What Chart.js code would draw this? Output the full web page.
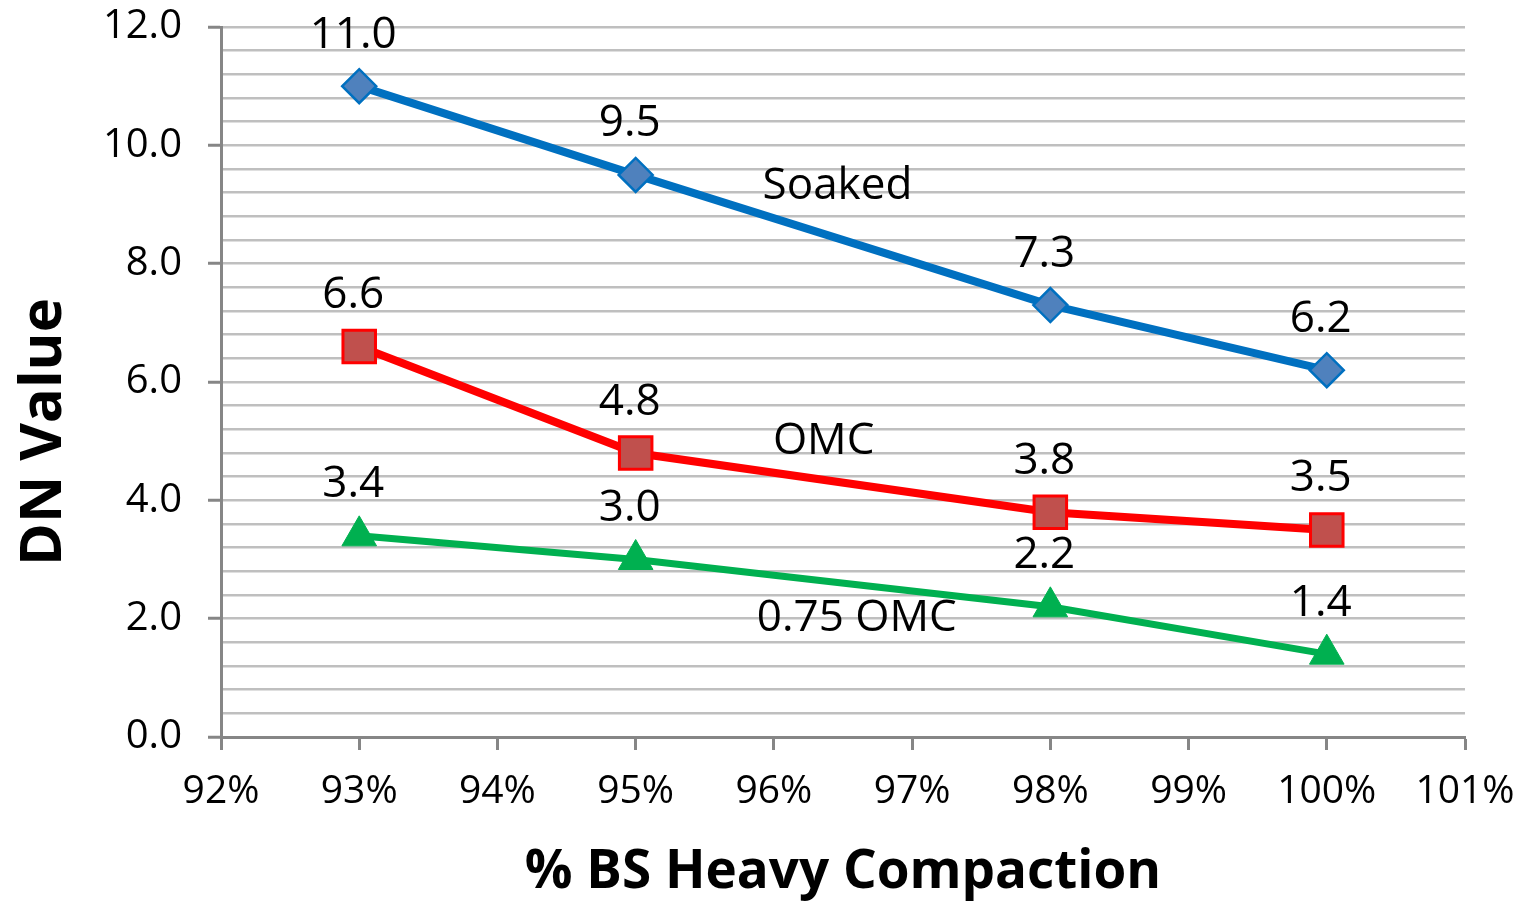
<!DOCTYPE html>
<html>
<head>
<meta charset="utf-8">
<title>DN Value vs % BS Heavy Compaction</title>
<script src="https://cdn.jsdelivr.net/npm/chart.js@4/dist/chart.umd.min.js"></script>
<style>
  html, body { margin: 0; padding: 0; background: #ffffff; }
  #wrap { width: 1519px; height: 902px; position: relative; }
</style>
</head>
<body>
<div id="wrap"><canvas id="chart"></canvas></div>
<script>
// ── data ─────────────────────────────────────────────
const compaction = [93, 95, 98, 100];          // % BS heavy compaction
const soaked     = [11.0, 9.5, 7.3, 6.2];
const omc        = [6.6, 4.8, 3.8, 3.5];
const omc075     = [3.4, 3.0, 2.2, 1.4];

const xTicks = [92, 93, 94, 95, 96, 97, 98, 99, 100, 101];
const yTickLabels = [0, 2, 4, 6, 8, 10, 12];

// series names written inside the plot, anchored in data units
const seriesNames   = ['Soaked', 'OMC', '0.75 OMC'];
const seriesNameAtX = [96.46, 96.36, 96.6];
const seriesNameAtY = [9.3, 5.0, 2.0];

const FONT = '"Open Sans", "DejaVu Sans", sans-serif';
const AXIS = '#868686';
const GRID = '#bfbfbf';

const toPoints = ys => ys.map((y, i) => ({ x: compaction[i], y }));
const isMajor = v => yTickLabels.some(t => Math.abs(t - v) < 1e-6);

// value labels above each point + series names
const valueLabels = {
  id: 'valueLabels',
  afterDatasetsDraw(chart) {
    const ctx = chart.ctx;
    ctx.save();
    ctx.font = '44px ' + FONT;
    ctx.fillStyle = '#000';
    ctx.textAlign = 'center';
    ctx.textBaseline = 'middle';
    chart.data.datasets.forEach((ds, di) => {
      chart.getDatasetMeta(di).data.forEach((pt, i) => {
        ctx.fillText(ds.data[i].y.toFixed(1), pt.x - 6, pt.y - 51);
      });
    });
    const xs = chart.scales.x, ys = chart.scales.y;
    seriesNames.forEach((name, i) => {
      ctx.fillText(name, xs.getPixelForValue(seriesNameAtX[i]), ys.getPixelForValue(seriesNameAtY[i]));
    });
    ctx.restore();
  }
};

// axis titles
const axisTitles = {
  id: 'axisTitles',
  afterDraw(chart) {
    const ctx = chart.ctx;
    const a = chart.chartArea;
    ctx.save();
    ctx.fillStyle = '#000';
    ctx.textAlign = 'center';
    ctx.textBaseline = 'middle';
    ctx.font = 'bold 53px ' + FONT;
    ctx.fillText('% BS Heavy Compaction', (a.left + a.right) / 2, 873);
    ctx.translate(44, 432);
    ctx.rotate(-Math.PI / 2);
    ctx.font = 'bold 58px ' + FONT;
    ctx.fillText('DN Value', 0, 0);
    ctx.restore();
  }
};

const noEdgePadding = s => {
  s.paddingTop = 0; s.paddingBottom = 0;
  s.paddingLeft = 0; s.paddingRight = 0;
};

new Chart(document.getElementById('chart'), {
  type: 'line',
  data: {
    datasets: [
      {
        label: 'Soaked',
        data: toPoints(soaked),
        borderColor: '#0070c0',
        borderWidth: 8,
        pointStyle: 'rectRot',
        pointRadius: 17,
        pointBackgroundColor: '#4f81bd',
        pointBorderColor: '#0070c0',
        pointBorderWidth: 2.5,
      },
      {
        label: 'OMC',
        data: toPoints(omc),
        borderColor: '#ff0000',
        borderWidth: 8,
        pointStyle: 'rect',
        pointRadius: 23,
        pointBackgroundColor: '#c0504d',
        pointBorderColor: '#ff0000',
        pointBorderWidth: 3,
      },
      {
        label: '0.75 OMC',
        data: toPoints(omc075),
        borderColor: '#00b050',
        borderWidth: 7,
        pointStyle: 'triangle',
        pointRadius: 20,
        pointBackgroundColor: '#00b050',
        pointBorderColor: '#00b050',
        pointBorderWidth: 1,
      }
    ]
  },
  options: {
    responsive: true,
    maintainAspectRatio: false,
    animation: false,
    layout: { padding: { top: 27, right: 54, left: 0, bottom: 0 } },
    plugins: {
      legend: { display: false },
      tooltip: { enabled: false }
    },
    scales: {
      x: {
        type: 'linear',
        min: 92,
        max: 101,
        afterBuildTicks: s => { s.ticks = xTicks.map(v => ({ value: v })); },
        afterFit: s => { s.height = 165; noEdgePadding(s); },
        border: { color: AXIS, width: 3 },
        grid: { drawOnChartArea: false, tickLength: 13, tickColor: AXIS, tickWidth: 3 },
        ticks: {
          color: '#000',
          font: { family: FONT, size: 39 },
          padding: 18,
          maxRotation: 0,
          autoSkip: false,
          callback: v => v + '%'
        }
      },
      y: {
        min: 0,
        max: 12,
        afterFit: s => { s.width = 221; noEdgePadding(s); },
        border: { color: AXIS, width: 3 },
        grid: {
          color: GRID,
          lineWidth: 2.5,
          tickLength: 13,
          tickWidth: 3,
          tickColor: c => (c.tick && isMajor(c.tick.value)) ? AXIS : 'rgba(0,0,0,0)'
        },
        ticks: {
          stepSize: 0.4,
          maxTicksLimit: 100,
          autoSkip: false,
          color: '#000',
          font: { family: FONT, size: 40 },
          padding: 26,
          callback: v => isMajor(v) ? v.toFixed(1) : ''
        }
      }
    }
  },
  plugins: [valueLabels, axisTitles]
});
</script>
</body>
</html>
